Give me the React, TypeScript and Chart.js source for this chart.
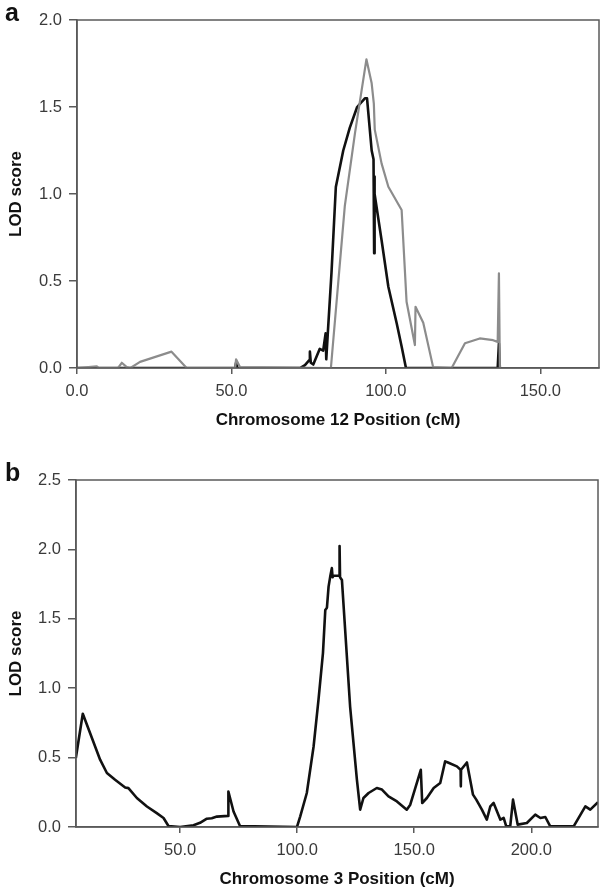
import React, { useEffect, useRef } from "react";
import { Chart, registerables } from "chart.js";

Chart.register(...registerables);

// ---- Panel a: Chromosome 12 ----
const aGrayX = [0, 6.4, 7, 13.3, 14.5, 16.1, 17.3, 20.4, 30.6, 35.5, 51.2, 51.5, 52.8, 82.2, 86.7, 90, 93.7, 95.4, 96.1, 96.4, 98.6, 100.8, 105.1, 106.7, 109.4, 109.6, 112.1, 115.3, 121.3, 125.6, 130.4, 134.7, 136.2, 136.6, 136.9];
const aGrayY = [0, 0.01, 0, 0, 0.03, 0.005, 0, 0.035, 0.094, 0, 0, 0.05, 0.005, 0, 0.93, 1.35, 1.774, 1.636, 1.52, 1.37, 1.176, 1.042, 0.908, 0.381, 0.132, 0.352, 0.26, 0.005, 0, 0.142, 0.17, 0.16, 0.15, 0.544, 0];

const aBlackX = [0, 51.2, 51.5, 51.9, 72.2, 73.8, 75.2, 75.4, 75.7, 76.5, 78.6, 79.7, 80.5, 80.7, 81.2, 82.4, 83.8, 86.2, 88.3, 90.7, 91.2, 93.2, 93.9, 95.4, 96.0, 96.2, 96.3, 96.4, 98.6, 100.8, 103.5, 105.1, 106.5, 136.2, 136.6, 136.9];
const aBlackY = [0, 0, 0.03, 0, 0, 0.017, 0.045, 0.094, 0.03, 0.02, 0.11, 0.1, 0.2, 0.05, 0.2, 0.55, 1.04, 1.25, 1.38, 1.5, 1.51, 1.55, 1.55, 1.25, 1.2, 0.66, 1.1, 1.0, 0.736, 0.467, 0.257, 0.123, 0, 0, 0.14, 0];

const aXTicks = [0, 50, 100, 150];
const aYTicks = [0, 0.5, 1.0, 1.5, 2.0];

// ---- Panel b: Chromosome 3 ----
const bX = [5.43, 8.4, 11.5, 15.8, 18.7, 22.2, 26.5, 27.9, 31.5, 35.8, 40, 42.9, 45, 50, 55.7, 58.5, 61.4, 63.5, 65.7, 70.5, 70.6, 72.8, 75.6, 99.9, 101.3, 104.1, 107, 109.1, 111, 112, 112.7, 113.4, 114.1, 114.8, 115.1, 115.5, 118.0, 118.1, 118.3, 119.1, 122.6, 125.5, 126.9, 128.3, 130.5, 134, 136.2, 139, 142.6, 146.8, 148.3, 152.8, 153.4, 155.4, 158.3, 161.1, 163.2, 164.4, 168.2, 169.8, 169.9, 170.0, 172.5, 175.1, 176.5, 178.9, 181, 182.5, 183.9, 186.8, 188.2, 189.3, 191, 192.2, 194.2, 198.1, 201.7, 203.9, 206, 208.1, 218.1, 223.1, 225.2, 228.5];
const bY = [0.497, 0.816, 0.677, 0.485, 0.389, 0.34, 0.285, 0.28, 0.209, 0.148, 0.1, 0.065, 0.007, 0, 0.013, 0.03, 0.06, 0.063, 0.075, 0.08, 0.256, 0.112, 0.006, 0, 0.077, 0.245, 0.58, 0.917, 1.253, 1.564, 1.58, 1.732, 1.804, 1.865, 1.80, 1.81, 1.81, 2.025, 1.80, 1.78, 0.868, 0.341, 0.125, 0.209, 0.245, 0.281, 0.27, 0.22, 0.184, 0.125, 0.161, 0.412, 0.173, 0.209, 0.281, 0.317, 0.473, 0.465, 0.437, 0.412, 0.293, 0.412, 0.465, 0.233, 0.197, 0.125, 0.053, 0.149, 0.173, 0.053, 0.065, 0.005, 0.005, 0.197, 0.017, 0.029, 0.089, 0.065, 0.072, 0.005, 0.005, 0.149, 0.125, 0.178];

const bXTicks = [50, 100, 150, 200];
const bYTicks = [0, 0.5, 1.0, 1.5, 2.0, 2.5];

const FONT = "'Liberation Sans', Arial, Helvetica, sans-serif";
const AXIS_COLOR = "#5a5a5a";
const TICK_COLOR = "#3a3a3a";

const framePlugin = {
  id: "frame",
  afterDatasetsDraw(chart: any) {
    const { ctx, chartArea } = chart;
    ctx.save();
    ctx.strokeStyle = AXIS_COLOR;
    ctx.lineWidth = 1.5;
    ctx.strokeRect(chartArea.left, chartArea.top, chartArea.right - chartArea.left, chartArea.bottom - chartArea.top);
    ctx.restore();
  },
};

function zip(xs: number[], ys: number[]) {
  return xs.map((x, i) => ({ x, y: ys[i] }));
}

type PanelProps = {
  width: number;
  height: number;
  datasets: any[];
  xMin: number;
  xMax: number;
  xTicks: number[];
  yMax: number;
  yTicks: number[];
  xTitle: string;
  yAxisWidth: number;
  xAxisHeight: number;
  padTop: number;
  padRight: number;
  xTitleBottom: number;
};

function Panel(p: PanelProps) {
  const ref = useRef<HTMLCanvasElement>(null);
  useEffect(() => {
    if (!ref.current) return;
    const chart = new Chart(ref.current, {
      type: "line",
      data: { datasets: p.datasets },
      plugins: [framePlugin],
      options: {
        animation: false,
        responsive: false,
        devicePixelRatio: 1,
        layout: { padding: { top: p.padTop, right: p.padRight, left: 0, bottom: 0 } },
        plugins: { legend: { display: false }, tooltip: { enabled: false } },
        elements: { point: { radius: 0 }, line: { tension: 0 } },
        scales: {
          x: {
            type: "linear",
            min: p.xMin,
            max: p.xMax,
            afterBuildTicks: (s: any) => {
              s.ticks = p.xTicks.map((v) => ({ value: v }));
            },
            afterFit: (s: any) => {
              s.height = p.xAxisHeight;
            },
            ticks: {
              callback: (v: any) => Number(v).toFixed(1),
              font: { family: FONT, size: 16.5 },
              color: TICK_COLOR,
              padding: 8,
              maxRotation: 0,
              autoSkip: false,
            },
            grid: { display: true, drawOnChartArea: false, drawTicks: true, tickLength: 6, color: AXIS_COLOR, lineWidth: 1.5 },
            border: { display: true, color: AXIS_COLOR, width: 1.5 },
            title: {
              display: true,
              text: p.xTitle,
              font: { family: FONT, size: 17, weight: "bold" },
              color: "#111",
              padding: { top: 0, bottom: p.xTitleBottom },
            },
          },
          y: {
            type: "linear",
            min: 0,
            max: p.yMax,
            afterBuildTicks: (s: any) => {
              s.ticks = p.yTicks.map((v) => ({ value: v }));
            },
            afterFit: (s: any) => {
              s.width = p.yAxisWidth;
            },
            ticks: {
              callback: (v: any) => Number(v).toFixed(1),
              font: { family: FONT, size: 16.5 },
              color: TICK_COLOR,
              padding: 7,
            },
            grid: { display: true, drawOnChartArea: false, drawTicks: true, tickLength: 8, color: AXIS_COLOR, lineWidth: 1.5 },
            border: { display: true, color: AXIS_COLOR, width: 1.5 },
            title: {
              display: true,
              text: "LOD score",
              font: { family: FONT, size: 17, weight: "bold" },
              color: "#111",
              padding: { top: 6, bottom: 0 },
            },
          },
        },
      } as any,
    });
    return () => chart.destroy();
  }, []);
  return <canvas ref={ref} width={p.width} height={p.height} style={{ display: "block", width: p.width, height: p.height }} />;
}

export default function App() {
  const aDatasets = [
    { data: zip(aGrayX, aGrayY), borderColor: "#8c8c8c", borderWidth: 2.2, pointRadius: 0, borderJoinStyle: "round" },
    { data: zip(aBlackX, aBlackY), borderColor: "#111111", borderWidth: 2.6, pointRadius: 0, borderJoinStyle: "round" },
  ];
  const bDatasets = [
    { data: zip(bX, bY), borderColor: "#111111", borderWidth: 2.6, pointRadius: 0, borderJoinStyle: "round" },
  ];
  const labelStyle: React.CSSProperties = {
    position: "absolute",
    fontFamily: FONT,
    fontWeight: "bold",
    fontSize: 25,
    lineHeight: "25px",
    color: "#111",
  };
  return (
    <div style={{ position: "absolute", left: 0, top: 0, width: 605, height: 893, background: "#fff", overflow: "hidden" }}>
      <div style={{ position: "absolute", left: 0, top: 0 }}>
        <Panel
          width={605}
          height={440}
          datasets={aDatasets}
          xMin={0}
          xMax={169}
          xTicks={aXTicks}
          yMax={2}
          yTicks={aYTicks}
          xTitle="Chromosome 12 Position (cM)"
          yAxisWidth={77}
          xAxisHeight={72}
          padTop={20}
          padRight={6}
          xTitleBottom={9}
        />
      </div>
      <div style={{ position: "absolute", left: 0, top: 440 }}>
        <Panel
          width={605}
          height={453}
          datasets={bDatasets}
          xMin={5.5}
          xMax={228.5}
          xTicks={bXTicks}
          yMax={2.5}
          yTicks={bYTicks}
          xTitle="Chromosome 3 Position (cM)"
          yAxisWidth={76}
          xAxisHeight={66}
          padTop={40}
          padRight={7}
          xTitleBottom={3}
        />
      </div>
      <div style={{ ...labelStyle, left: 5, top: 0 }}>a</div>
      <div style={{ ...labelStyle, left: 5, top: 460 }}>b</div>
    </div>
  );
}
